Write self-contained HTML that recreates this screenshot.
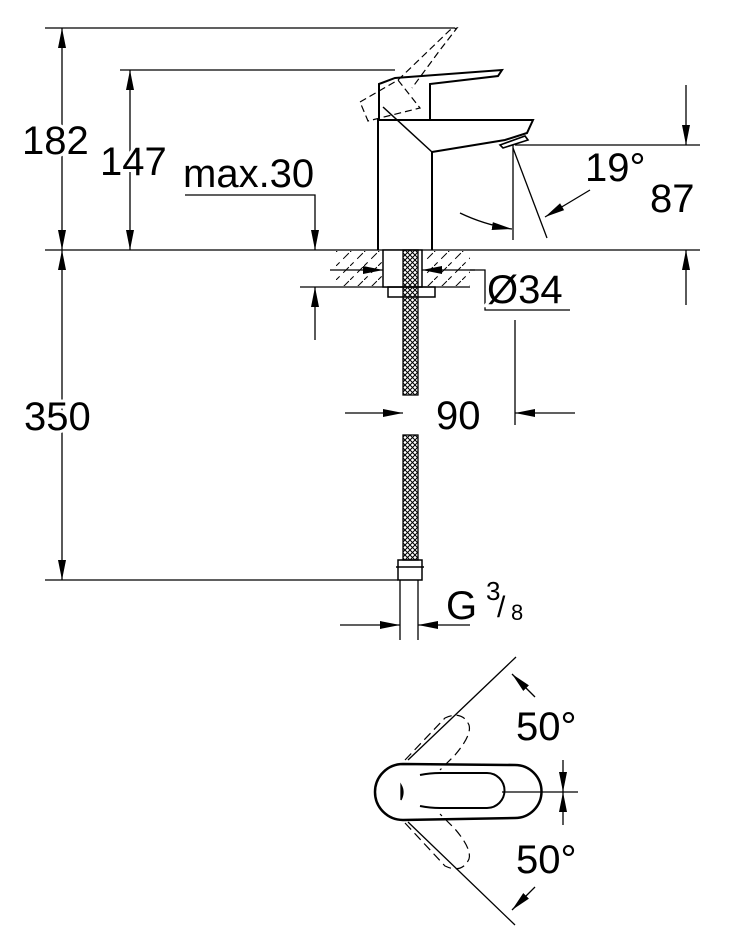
<!DOCTYPE html>
<html><head><style>
html,body{margin:0;padding:0;background:#fff}
svg{display:block}
text{font-family:"Liberation Sans",Arial,sans-serif;fill:#000;paint-order:stroke;stroke:#fff;stroke-width:6px}
</style></head><body>
<svg width="736" height="950" viewBox="0 0 736 950" xmlns="http://www.w3.org/2000/svg">
<defs>
<marker id="b" viewBox="0 0 20 10" refX="20" refY="5" markerWidth="20" markerHeight="10" orient="auto-start-reverse" markerUnits="userSpaceOnUse"><path d="M0,1 L20,5 L0,9z" fill="#000"/></marker>
<pattern id="h" width="14" height="14" patternUnits="userSpaceOnUse"><path d="M-2,16 L16,-2" stroke="#000" stroke-width="1" stroke-dasharray="8,5"/></pattern>
<pattern id="x" width="5" height="5" patternUnits="userSpaceOnUse"><path d="M0,0 L5,5 M5,0 L0,5" stroke="#000" stroke-width="1"/></pattern>
</defs>
<g stroke="#000" stroke-width="1.3" fill="none">
<line x1="45" y1="28" x2="455" y2="28"/>
<line x1="120" y1="70" x2="395" y2="70"/>
<line x1="45" y1="250" x2="700" y2="250"/>
<line x1="45" y1="580" x2="398" y2="580"/>
<line x1="62" y1="28" x2="62" y2="250" marker-start="url(#b)" marker-end="url(#b)"/>
<line x1="62" y1="250" x2="62" y2="580" marker-start="url(#b)" marker-end="url(#b)"/>
<line x1="130" y1="70" x2="130" y2="250" marker-start="url(#b)" marker-end="url(#b)"/>
<polyline points="185,195 315,195 315,250" marker-end="url(#b)"/>
<line x1="315" y1="340" x2="315" y2="287" marker-end="url(#b)"/>
<line x1="300" y1="287" x2="470" y2="287"/>
<rect x="335" y="251" width="48" height="35" fill="url(#h)" stroke="none"/>
<rect x="425" y="251" width="45" height="35" fill="url(#h)" stroke="none"/>
<path d="M378,250 L378,120 L533,120 L527,133 L505,140 L432,152 L432,250" stroke-width="2"/>
<path d="M500,145 L525,136 L528,140 L503,148z" stroke-width="1.6"/>
<path d="M379,120 L379,84 L395,78 L502,70 L498,76 L430,84 L430,120" stroke-width="2"/>
<line x1="383" y1="107" x2="432" y2="152" stroke-width="1.5"/>
<g stroke-dasharray="7,4" stroke-width="1.2">
<path d="M360,102 L398,80 L420,108 L368,121z"/>
<path d="M398,80 L450,30 L457,28 L440,50 L412,88"/>
</g>
<rect x="383" y="250" width="39" height="37" stroke-width="1.5" fill="#fff"/>
<rect x="388" y="287" width="47" height="10" stroke-width="1.5"/>
<rect x="403" y="250" width="15" height="145" fill="url(#x)" stroke-width="1.3"/>
<rect x="403" y="435" width="15" height="125" fill="url(#x)" stroke-width="1.3"/>
<path d="M398,560 L422,560 L422,580 L398,580z M396,567 L424,567" stroke-width="1.5"/>
<line x1="330" y1="270" x2="383" y2="270" marker-end="url(#b)"/>
<line x1="475" y1="270" x2="422" y2="270" marker-end="url(#b)"/>
<polyline points="470,270 485,270 485,310 570,310"/>
<line x1="515" y1="145" x2="700" y2="145"/>
<line x1="686" y1="85" x2="686" y2="145" marker-end="url(#b)"/>
<line x1="686" y1="305" x2="686" y2="250" marker-end="url(#b)"/>
<line x1="513" y1="145" x2="513" y2="240"/>
<line x1="513" y1="148" x2="547" y2="238"/>
<path d="M460,213 Q485,225 512,229" marker-end="url(#b)"/>
<line x1="590" y1="190" x2="545" y2="217" marker-end="url(#b)"/>
<line x1="515" y1="320" x2="515" y2="425"/>
<line x1="345" y1="413" x2="403" y2="413" marker-end="url(#b)"/>
<line x1="575" y1="413" x2="515" y2="413" marker-end="url(#b)"/>
<line x1="400" y1="580" x2="400" y2="640"/>
<line x1="418" y1="580" x2="418" y2="640"/>
<line x1="340" y1="625" x2="400" y2="625" marker-end="url(#b)"/>
<line x1="470" y1="625" x2="418" y2="625" marker-end="url(#b)"/>
<path d="M403,764 L515,765 A26.5,26.5 0 0 1 515,818 L403,820 A28,28 0 0 1 403,764z" stroke-width="2.5"/>
<path d="M420,775 Q430,773 440,773 L487,773 A17.5,17.5 0 0 1 487,808 L440,808 Q430,808 420,806" stroke-width="2"/>
<path d="M401,785 Q405,792 401,800 Z" fill="#000"/>
<line x1="502" y1="792" x2="578" y2="792"/>
<line x1="408" y1="760" x2="516" y2="657"/>
<line x1="408" y1="822" x2="515" y2="925"/>
<g stroke-dasharray="9,5" stroke-width="1.2">
<path d="M405,760 L445,718 Q462,710 469,725 Q472,735 455,755 L440,770"/>
<path d="M405,823 L445,866 Q462,874 469,859 Q472,849 455,829 L440,814"/>
</g>
<line x1="535" y1="697" x2="512" y2="674" marker-end="url(#b)"/>
<line x1="535" y1="887" x2="512" y2="910" marker-end="url(#b)"/>
<line x1="563" y1="760" x2="563" y2="792" marker-end="url(#b)"/>
<line x1="563" y1="825" x2="563" y2="792" marker-end="url(#b)"/>
</g>
<g font-size="40">
<text x="22" y="154">182</text>
<text x="100" y="175">147</text>
<text x="183" y="187">max.30</text>
<text x="487" y="303">Ø34</text>
<text x="585" y="181">19°</text>
<text x="650" y="212">87</text>
<text x="24" y="430">350</text>
<text x="436" y="429">90</text>
<text x="446" y="619">G</text>
<text x="486" y="600" font-size="26">3</text>
<text x="497" y="617" font-size="30">/</text>
<text x="511" y="620" font-size="22">8</text>
<text x="516" y="740">50°</text>
<text x="516" y="873">50°</text>
</g>
</svg>
</body></html>
